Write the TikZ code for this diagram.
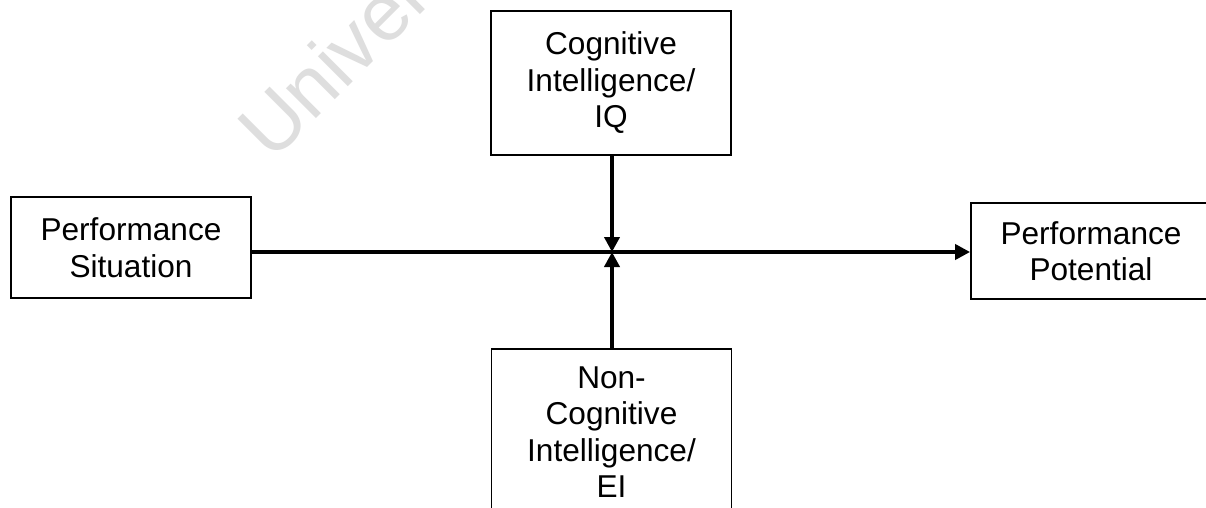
\documentclass[tikz,border=0pt]{standalone}
\usepackage{fontspec}
\setmainfont{Liberation Sans}
\usetikzlibrary{arrows.meta}
\tikzset{
  box/.style={draw=black, line width=1.8pt, fill=white, minimum width=240pt, inner sep=0pt, align=center,
    font=\fontsize{31.6}{36.5}\selectfont},
  conn/.style={line width=4pt, -{Triangle[length=15pt,width=15pt]}},
  wmark/.style={text=black!13, font=\fontsize{80}{80}\selectfont, inner sep=0pt}
}
\begin{document}
\begin{tikzpicture}[x=1pt,y=-1pt]
\useasboundingbox (0,0) rectangle (1206,508);
\clip (0,0) rectangle (1206,508);
\fill[white] (0,0) rectangle (1206,508);
\node[wmark, rotate=45, anchor=base west] (wm) at (272,163) {University};
\node[box, minimum height=144pt] (cog) at (611,83) {Cognitive\\Intelligence/\\IQ};
\node[box, minimum height=101pt] (sit) at (131,247.5) {Performance\\Situation};
\node[box, minimum height=96pt] (pot) at (1091,251) {Performance\\Potential};
\node[box, minimum height=166pt, anchor=north] (ncog) at (611.5,348) {Non-\\Cognitive\\Intelligence/\\EI};
\coordinate (j) at (612,252);
\draw[line width=4pt] (sit.east |- j) -- (j);
\draw[conn] (j) -- (pot.west |- j);
\draw[conn] (cog.south -| j) -- (j);
\draw[conn] (ncog.north -| j) -- (j);
\end{tikzpicture}
\end{document}
